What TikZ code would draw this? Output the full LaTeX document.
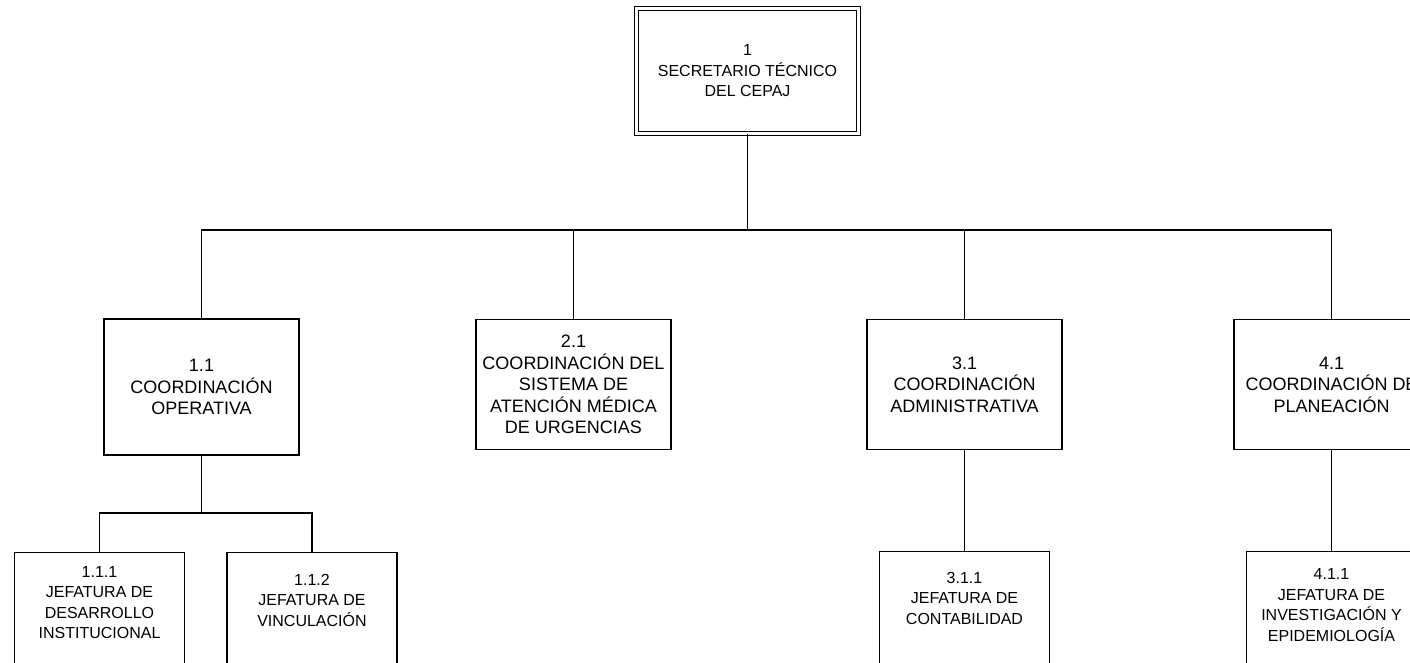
\documentclass[tikz,border=0pt]{standalone}
\usepackage{fontspec}
\setmainfont{Liberation Sans}
\begin{document}
\begin{tikzpicture}[x=1pt,y=-1pt,
  link/.style={line width=1.3pt},
  unit/.style={draw, line width=1.3pt, inner sep=0pt, align=center,
    minimum width=195pt, minimum height=130pt,
    font=\fontsize{18}{21.5}\selectfont},
  leaf/.style={draw, line width=1.3pt, inner sep=0pt, anchor=north,
    minimum width=170pt, minimum height=140pt},
  leaftext/.style={align=center, inner sep=0pt,
    font=\fontsize{16}{20.5}\selectfont}]
\useasboundingbox (0,0) rectangle (1410,663);
\clip (0,0) rectangle (1410,663);

% head of the organisation
\node[draw, double, double distance=2.5pt, line width=1.2pt, inner sep=0pt,
  minimum width=222pt, minimum height=125pt, align=center,
  font=\fontsize{16}{20.5}\selectfont] (top) at (747.5,71)
  {1\\SECRETARIO TÉCNICO\\DEL CEPAJ};

% coordinations
\node[unit, minimum height=136pt] (b11) at (201.5,387) {1.1\\COORDINACIÓN\\OPERATIVA};
\node[unit] (b21) at (573.5,384.5) {2.1\\COORDINACIÓN DEL\\SISTEMA DE\\ATENCIÓN MÉDICA\\DE URGENCIAS};
\node[unit] (b31) at (964.5,384.5) {3.1\\COORDINACIÓN\\ADMINISTRATIVA};
\node[unit] (b41) at (1331.5,384.5) {4.1\\COORDINACIÓN DE\\PLANEACIÓN};

% departments
\node[leaf] (b111) at (99.5,552) {};
\node[leaf] (b112) at (312,552) {};
\node[leaf] (b311) at (964.5,551) {};
\node[leaf] (b411) at (1331.5,551) {};
\node[leaftext] (t111) at (99.5,602.5) {1.1.1\\JEFATURA DE\\DESARROLLO\\INSTITUCIONAL};
\node[leaftext] (t112) at (312,600) {1.1.2\\JEFATURA DE\\VINCULACIÓN};
\node[leaftext] (t311) at (964.5,598) {3.1.1\\JEFATURA DE\\CONTABILIDAD};
\node[leaftext] (t411) at (1331.5,605) {4.1.1\\JEFATURA DE\\INVESTIGACIÓN Y\\EPIDEMIOLOGÍA};

% connectors
\coordinate (bus) at (747.5,230);
\coordinate (fork) at (201.5,513);
\draw[link] (top.south) -- (bus);
\draw[link] (b11.north) |- (bus) -- (b41.north |- bus) -- (b41.north);
\draw[link] (b21.north) -- (b21.north |- bus);
\draw[link] (b31.north) -- (b31.north |- bus);
\draw[link] (b11.south) -- (fork);
\draw[link] (b111.north) |- (fork) -| (b112.north);
\draw[link] (b31.south) -- (b311.north);
\draw[link] (b41.south) -- (b411.north);
\end{tikzpicture}
\end{document}
